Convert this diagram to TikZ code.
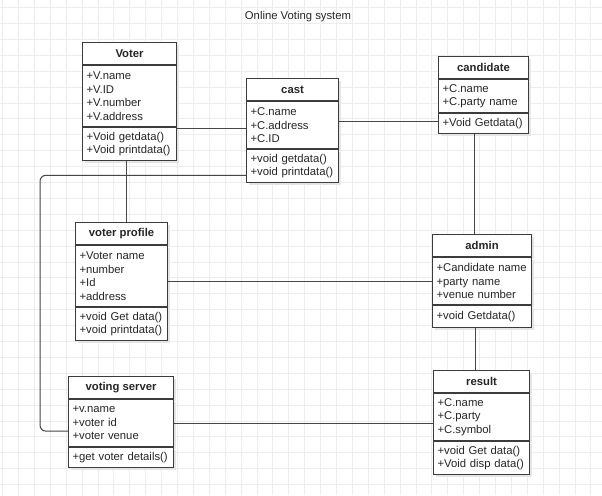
\documentclass[tikz,border=0pt]{standalone}
\usepackage{fontspec}
\setmainfont{Liberation Sans}
\usetikzlibrary{positioning,shadows}
\definecolor{gridgray}{HTML}{EDEDED}
\definecolor{boxline}{HTML}{3C3C3C}
\definecolor{linkgray}{HTML}{474747}

\begin{document}
\begin{tikzpicture}[
  x=1pt, y=-1pt,
  font=\fontsize{11.3}{13.4}\selectfont,
  gridline/.style={draw=gridgray, line width=0.8pt},
  boxshadow/.style={drop shadow={shadow xshift=2.5pt, shadow yshift=-2.5pt, fill=black!10, opacity=1}},
  classhead/.style={draw=boxline, fill=white, line width=1.1pt, font=\fontsize{11.3}{13.4}\selectfont\bfseries, anchor=north west, minimum height=22pt, inner sep=0pt, text=black!85, boxshadow},
  classpart/.style={draw=boxline, fill=white, line width=1.1pt, align=left, inner xsep=4pt, inner ysep=0pt, text=black!85, boxshadow},
  link/.style={draw=linkgray, line width=1pt}
]
  \useasboundingbox (0,0) rectangle (602,495);
  \fill[white] (0,0) rectangle (602,495);
  % background grid
  \foreach \i in {0,...,37}
    \draw[gridline] (2.5+15.9*\i,0) -- (2.5+15.9*\i,495);
  \foreach \j in {0,...,30}
    \draw[gridline] (0,7.5+15.9*\j) -- (602,7.5+15.9*\j);

  \node[font=\fontsize{11.3}{13.4}\selectfont, text=black!85] (title) at (298,17) {Online Voting system};

  % Voter
  \node[classhead, minimum width=94pt] (voter) at (82,42) {Voter};
  \node[classpart, text width=86pt, minimum height=61pt, below=0pt of voter] (voterA) {+V.name\\+V.ID\\+V.number\\+V.address};
  \node[classpart, text width=86pt, minimum height=33pt, below=0pt of voterA] (voterM) {+Void getdata()\\+Void printdata()};

  % cast
  \node[classhead, minimum width=92pt] (cast) at (246,78) {cast};
  \node[classpart, text width=84pt, minimum height=47pt, below=0pt of cast] (castA) {+C.name\\+C.address\\+C.ID};
  \node[classpart, text width=84pt, minimum height=33pt, below=0pt of castA] (castM) {+void getdata()\\+void printdata()};

  % candidate
  \node[classhead, minimum width=90pt] (cand) at (438,56) {candidate};
  \node[classpart, text width=82pt, minimum height=33pt, below=0pt of cand] (candA) {+C.name\\+C.party name};
  \node[classpart, text width=82pt, minimum height=20pt, below=0pt of candA] (candM) {+Void Getdata()};

  % voter profile
  \node[classhead, minimum width=92pt] (vprof) at (75,222) {voter profile};
  \node[classpart, text width=84pt, minimum height=61pt, below=0pt of vprof] (vprofA) {+Voter name\\+number\\+Id\\+address};
  \node[classpart, text width=84pt, minimum height=33pt, below=0pt of vprofA] (vprofM) {+void Get data()\\+void printdata()};

  % admin
  \node[classhead, minimum width=99pt] (admin) at (432,234) {admin};
  \node[classpart, text width=91pt, minimum height=47pt, below=0pt of admin] (adminA) {+Candidate name\\+party name\\+venue number};
  \node[classpart, text width=91pt, minimum height=22pt, below=0pt of adminA] (adminM) {+void Getdata()};

  % voting server
  \node[classhead, minimum width=105pt] (vserv) at (68,376) {voting server};
  \node[classpart, text width=97pt, minimum height=47pt, below=0pt of vserv] (vservA) {+v.name\\+voter id\\+voter venue};
  \node[classpart, text width=97pt, minimum height=20pt, below=0pt of vservA] (vservM) {+get voter details()};

  % result
  \node[classhead, minimum width=96pt] (result) at (433,370) {result};
  \node[classpart, text width=88pt, minimum height=47pt, below=0pt of result] (resultA) {+C.name\\+C.party\\+C.symbol};
  \node[classpart, text width=88pt, minimum height=33pt, below=0pt of resultA] (resultM) {+void Get data()\\+Void disp data()};

  % associations
  \coordinate (voterOut) at ([yshift=-1pt]voterM.north east);
  \coordinate (candIn) at ([yshift=2.5pt]candM.west);
  \coordinate (voterDown) at ([xshift=-3pt]voterM.south);
  \coordinate (candDown) at ([xshift=-9pt]candM.south);
  \coordinate (adminDown) at ([xshift=-7pt]adminM.south);
  \coordinate (bend) at (40,300);
  \draw[link] (voterOut) -- (castA.west |- voterOut);
  \draw[link] (candIn) -- (castA.east |- candIn);
  \draw[link] (voterDown) -- (vprof.north -| voterDown);
  \draw[link] (candDown) -- (admin.north -| candDown);
  \draw[link] (adminDown) -- (result.north -| adminDown);
  \draw[link] (adminA.west) -- (vprofA.east |- adminA.west);
  \draw[link] (vservA.east) -- (resultA.west |- vservA.east);
  \draw[link, rounded corners=6pt] ([yshift=-9pt]castM.west) -| (bend) |- ([yshift=-8pt]vservA.west);
\end{tikzpicture}
\end{document}
